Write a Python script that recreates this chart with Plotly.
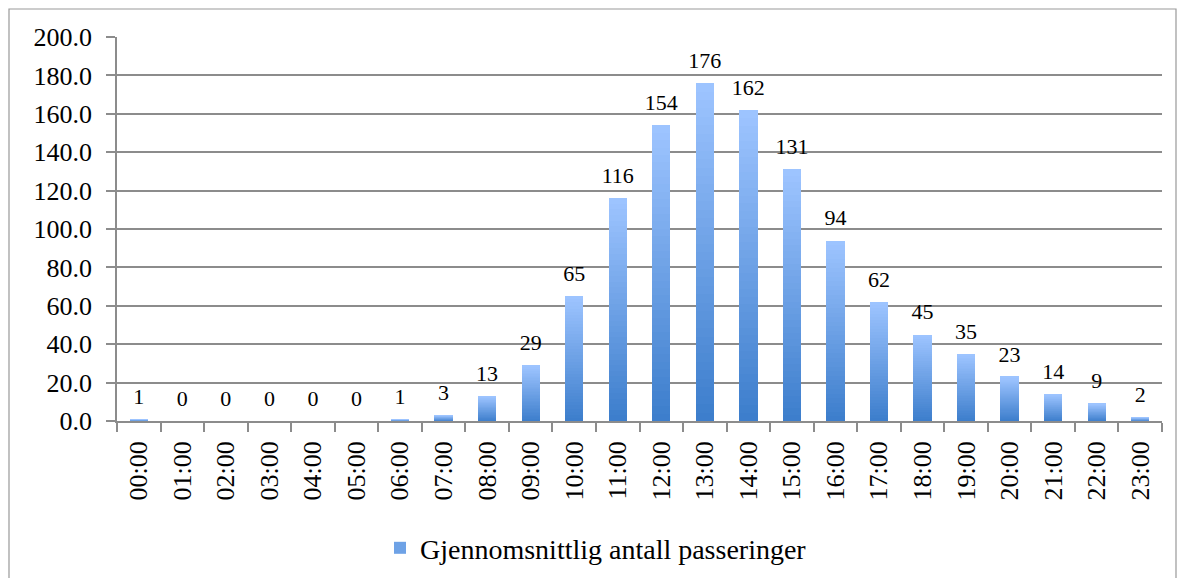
import plotly.graph_objects as go

hours = [f"{h:02d}:00" for h in range(24)]
values = [1, 0, 0, 0, 0, 0, 1, 3, 13, 29, 65, 116, 154, 176, 162, 131, 94, 62, 45, 35, 23, 14, 9, 2]
series_name = "Gjennomsnittlig antall passeringer"

top_rgb = (157, 196, 255)
bot_rgb = (61, 126, 204)
N = 40

fig = go.Figure()
for i in range(N):
    t = i / (N - 1)
    c = tuple(round(bot_rgb[k] + (top_rgb[k] - bot_rgb[k]) * t) for k in range(3))
    fig.add_trace(go.Bar(
        x=hours, y=[v / N for v in values],
        marker=dict(color=f"rgb{c}", line=dict(width=0)),
        name=series_name, showlegend=(i == N // 2), legendgroup="g",
        hoverinfo="skip",
    ))

fig.add_trace(go.Scatter(
    x=hours, y=values, text=[str(v) for v in values], mode="markers+text",
    marker=dict(size=14, opacity=0),
    textposition="top center", textfont=dict(size=22, color="#000", family="Liberation Serif"),
    showlegend=False, hoverinfo="skip",
))

L, T, PW, PH = 109, 29, 1045, 384
grid = "#8c8c8c"
fig.update_layout(
    width=1190, height=578,
    barmode="stack", bargap=0.58,
    plot_bgcolor="white", paper_bgcolor="white",
    margin=dict(l=L, r=1190 - L - PW, t=T, b=578 - T - PH, autoexpand=False),
    font=dict(family="Liberation Serif", color="#000", size=26),
    legend=dict(orientation="h", x=(372 - L) / PW, xanchor="left", y=-0.331, yanchor="middle",
                font=dict(size=28), itemwidth=30),
    xaxis=dict(range=[-0.5, len(hours) - 0.5], showline=True, linecolor=grid, linewidth=1.5,
               ticks="outside", tickson="boundaries", ticklen=9, tickcolor=grid, tickwidth=1.5,
               tickangle=-90, showgrid=False, tickfont=dict(size=26), automargin=False,
               ticklabelstandoff=8),
    yaxis=dict(range=[0, 200], dtick=20, tickformat=".1f", showline=True,
               linecolor=grid, linewidth=1.5, ticks="outside", ticklen=9,
               tickcolor=grid, tickwidth=1.5, showgrid=True, gridcolor=grid,
               gridwidth=1.5, zeroline=False, tickfont=dict(size=26), automargin=False,
               ticklabelstandoff=9),
    shapes=[dict(type="rect", xref="paper", yref="paper",
                 x0=(1 - L) / PW, x1=(1168 - L) / PW,
                 y0=-(600 - T - PH) / PH, y1=(T + PH - 1) / PH,
                 line=dict(color="#999", width=1.2), layer="below")],
)

fig.write_html("out.html")
